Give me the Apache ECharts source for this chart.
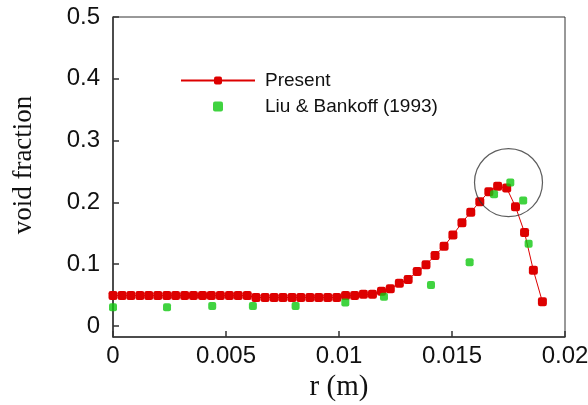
<!DOCTYPE html>
<html>
<head>
<meta charset="utf-8">
<script src="https://cdn.jsdelivr.net/npm/echarts@6/dist/echarts.min.js"></script>
<style>html,body{margin:0;padding:0;background:#fff}#c{width:588px;height:405px}</style>
</head>
<body>
<div id="c"></div>
<script>
// Present (numerical) radial positions and void fraction
const presentR = [0, 0.0004, 0.00079, 0.00119, 0.00158, 0.00198, 0.00238, 0.00277, 0.00317, 0.00356,
  0.00396, 0.00435, 0.00475, 0.00515, 0.00554, 0.00594, 0.00633, 0.00673, 0.00713, 0.00752,
  0.00792, 0.00831, 0.00871, 0.0091, 0.0095, 0.0099, 0.01029, 0.01069, 0.01108, 0.01148,
  0.01188, 0.01227, 0.01267, 0.01306, 0.01346, 0.01385, 0.01425, 0.01465, 0.01504, 0.01544,
  0.01583, 0.01623, 0.01663, 0.01702, 0.01742, 0.01781, 0.01821, 0.0186, 0.019];
const presentVoid = [0.049, 0.049, 0.049, 0.049, 0.049, 0.049, 0.049, 0.049, 0.049, 0.049,
  0.049, 0.049, 0.049, 0.049, 0.049, 0.049, 0.046, 0.046, 0.046, 0.046,
  0.046, 0.046, 0.046, 0.046, 0.046, 0.046, 0.049, 0.049, 0.051, 0.051,
  0.056, 0.060, 0.069, 0.075, 0.088, 0.099, 0.114, 0.129, 0.147, 0.167,
  0.184, 0.201, 0.217, 0.226, 0.223, 0.193, 0.151, 0.090, 0.039];
// Liu & Bankoff (1993) experiment
const expR = [0, 0.00239, 0.00439, 0.00619, 0.00808, 0.01028, 0.01199, 0.01407, 0.01578, 0.01686, 0.01758, 0.01815, 0.01839];
const expVoid = [0.030, 0.030, 0.032, 0.032, 0.032, 0.038, 0.047, 0.066, 0.103, 0.213, 0.232, 0.203, 0.133];
// highlight circle annotation (data coords)
const highlight = [0.0175, 0.232];
const yTicks = [0, 0.1, 0.2, 0.3, 0.4, 0.5];
const seriesNames = ['Present', 'Liu & Bankoff (1993)'];

const squareIcon = 'path://M2,0h6a2,2 0 0 1 2,2v6a2,2 0 0 1 -2,2h-6a2,2 0 0 1 -2,-2v-6a2,2 0 0 1 2,-2z';
const chart = echarts.init(document.getElementById('c'), null, {renderer: 'canvas'});
const axisCol = '#333';
chart.setOption({
  animation: false,
  backgroundColor: '#fff',
  grid: {left: 113, right: 23, top: 17, bottom: 68, show: true, borderColor: axisCol, borderWidth: 1, outerBoundsMode: 'none'},
  legend: {
    orient: 'vertical', left: 175, top: 66, itemWidth: 74, itemHeight: 10, itemGap: 7,
    symbolKeepAspect: true,
    data: [{name: seriesNames[0]}, {name: seriesNames[1], icon: squareIcon}],
    textStyle: {fontFamily: 'Liberation Sans, Arial', fontSize: 19, color: '#111', lineHeight: 14, padding: [0, 0, 0, 5]}
  },
  xAxis: {
    type: 'value', min: 0, max: 0.02, interval: 0.005,
    name: 'r (m)', nameLocation: 'middle', nameGap: 34,
    nameTextStyle: {fontFamily: 'Liberation Serif, Times New Roman', fontSize: 29, color: '#111'},
    axisLine: {show: true, onZero: false, lineStyle: {color: axisCol, width: 1.5}},
    axisTick: {show: true, inside: true, length: 6, lineStyle: {color: axisCol, width: 1.5}},
    axisLabel: {fontFamily: 'Liberation Sans, Arial', fontSize: 24, color: '#111', margin: 7},
    splitLine: {show: false}
  },
  yAxis: {
    type: 'value', min: -0.018, max: 0.5,
    name: 'void fraction', nameLocation: 'middle', nameGap: 76, nameRotate: 90,
    nameTextStyle: {fontFamily: 'Liberation Serif, Times New Roman', fontSize: 27, color: '#111', padding: [0, 0, 0, 24]},
    axisLine: {show: true, onZero: false, lineStyle: {color: axisCol, width: 1.5}},
    axisTick: {show: true, inside: true, length: 6, customValues: yTicks, lineStyle: {color: axisCol, width: 1.5}},
    axisLabel: {fontFamily: 'Liberation Sans, Arial', fontSize: 24, color: '#111', margin: 13, customValues: yTicks},
    splitLine: {show: false}
  },
  series: [
    {
      name: seriesNames[0], type: 'line',
      data: presentR.map((r, i) => [r, presentVoid[i]]),
      symbol: 'roundRect', symbolSize: 9, showAllSymbol: true,
      lineStyle: {color: '#dd0000', width: 1},
      itemStyle: {color: '#dd0000'}, z: 3
    },
    {
      name: seriesNames[1], type: 'scatter',
      data: expR.map((r, i) => [r, expVoid[i]]),
      symbol: 'roundRect', symbolSize: 8,
      itemStyle: {color: '#10c810'}, z: 4
    },
    {
      name: 'highlight', type: 'scatter', silent: true,
      data: [highlight], symbol: 'circle', symbolSize: 68,
      itemStyle: {color: 'rgba(0,0,0,0)', borderColor: '#333', borderWidth: 1.2}, z: 5
    }
  ]
});
</script>
</body>
</html>
